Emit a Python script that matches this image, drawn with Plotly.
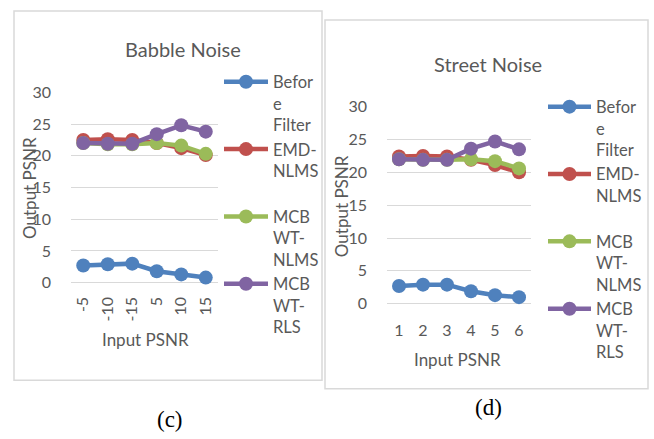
import plotly.graph_objects as go

W, H = 654, 439

# ---- data -------------------------------------------------------------
series_names = ["Befor<br>e<br>Filter", "EMD-<br>NLMS<br>&nbsp;", "MCB<br>WT-<br>NLMS", "MCB<br>WT-<br>RLS"]
series_colors = ["#4F81BD", "#C0504D", "#9BBB59", "#8064A2"]

babble_x = ["-5", "-10", "-15", "5", "10", "15"]
babble_before = [2.7, 2.9, 3.0, 1.8, 1.3, 0.8]
babble_emd = [22.5, 22.6, 22.5, 22.0, 21.2, 20.1]
babble_mcb_nlms = [22.0, 21.8, 21.8, 22.0, 21.6, 20.3]
babble_mcb_rls = [22.0, 21.9, 21.9, 23.4, 24.8, 23.8]

street_x = ["1", "2", "3", "4", "5", "6"]
street_before = [2.7, 2.9, 2.9, 1.9, 1.3, 1.0]
street_emd = [22.4, 22.5, 22.4, 21.9, 21.1, 20.0]
street_mcb_nlms = [22.0, 21.9, 21.9, 22.0, 21.7, 20.6]
street_mcb_rls = [22.0, 21.9, 21.9, 23.6, 24.7, 23.5]

y_ticks = [0, 5, 10, 15, 20, 25, 30]

GREY = "#595959"
GRID = "#D9D9D9"
FONT = "Lato"


def fx(px):
    return px / W


def fy(py):
    return 1 - py / H


fig = go.Figure()

babble = [babble_before, babble_emd, babble_mcb_nlms, babble_mcb_rls]
street = [street_before, street_emd, street_mcb_nlms, street_mcb_rls]

for name, color, ys in zip(series_names, series_colors, babble):
    fig.add_trace(go.Scatter(
        x=babble_x, y=ys, name=name, mode="lines+markers",
        line=dict(color=color, width=4.5), marker=dict(color=color, size=14),
        xaxis="x", yaxis="y", legend="legend", cliponaxis=False,
    ))

for name, color, ys in zip(series_names, series_colors, street):
    fig.add_trace(go.Scatter(
        x=street_x, y=ys, name=name, mode="lines+markers",
        line=dict(color=color, width=4.5), marker=dict(color=color, size=14),
        xaxis="x2", yaxis="y2", legend="legend2", cliponaxis=False,
    ))

axis_common = dict(
    showline=False, ticks="", gridcolor=GRID, gridwidth=1.3,
    tickfont=dict(family=FONT, size=16, color=GREY),
)

legend_font = dict(family=FONT, size=16.5, color=GREY)

fig.update_layout(
    width=W, height=H,
    margin=dict(l=0, r=0, t=0, b=0),
    paper_bgcolor="white", plot_bgcolor="white",
    font=dict(family=FONT, color=GREY),
    xaxis=dict(domain=[fx(71), fx(218)], type="category", range=[-0.5, 5.5],
               showgrid=False, zeroline=False, tickangle=-90,
               ticklabelstandoff=10, anchor="y", **axis_common),
    yaxis=dict(domain=[fy(285), fy(86)], range=[0, 30], tickvals=y_ticks,
               zeroline=True, zerolinecolor=GRID, zerolinewidth=1.3,
               ticklabelstandoff=19, anchor="x", **axis_common),
    xaxis2=dict(domain=[fx(387), fx(531)], type="category", range=[-0.5, 5.5],
                showgrid=False, zeroline=False,
                ticklabelstandoff=15, anchor="y2", **axis_common),
    yaxis2=dict(domain=[fy(307), fy(101)], range=[0, 30], tickvals=y_ticks,
                zeroline=True, zerolinecolor=GRID, zerolinewidth=1.3,
                ticklabelstandoff=19, anchor="x2", **axis_common),
    legend=dict(x=fx(219), y=fy(57), xanchor="left", yanchor="top",
                valign="top", tracegroupgap=0, itemwidth=44,
                bgcolor="rgba(0,0,0,0)", font=legend_font),
    legend2=dict(x=fx(543), y=fy(83), xanchor="left", yanchor="top",
                 valign="top", tracegroupgap=0, itemwidth=43,
                 bgcolor="rgba(0,0,0,0)", font=legend_font),
    showlegend=True,
)

# chart frames
fig.add_shape(type="rect", xref="paper", yref="paper",
              x0=fx(14), x1=fx(322), y0=fy(387), y1=fy(1),
              line=dict(color=GRID, width=1.5), layer="below")
fig.add_shape(type="rect", xref="paper", yref="paper",
              x0=fx(325), x1=fx(648), y0=fy(396), y1=fy(10.5),
              line=dict(color=GRID, width=1.5), layer="below")


def label(text, x, y, size, angle=0, family=FONT, color=GREY):
    fig.add_annotation(text=text, x=fx(x), y=fy(y), xref="paper", yref="paper",
                       showarrow=False, textangle=angle, xanchor="center",
                       yanchor="middle", font=dict(family=family, size=size, color=color))


label("Babble Noise", 183, 41, 20)
label("Street Noise", 488, 56, 20)
label("Output PSNR", 30, 186, 17, angle=-90)
label("Output PSNR", 341, 205, 17, angle=-90)
label("Input PSNR", 145, 344, 17)
label("Input PSNR", 458, 365, 17)
label("(c)", 170, 428, 23, family="Liberation Serif", color="black")
label("(d)", 488, 415, 23, family="Liberation Serif", color="black")

fig.write_html("out.html")
